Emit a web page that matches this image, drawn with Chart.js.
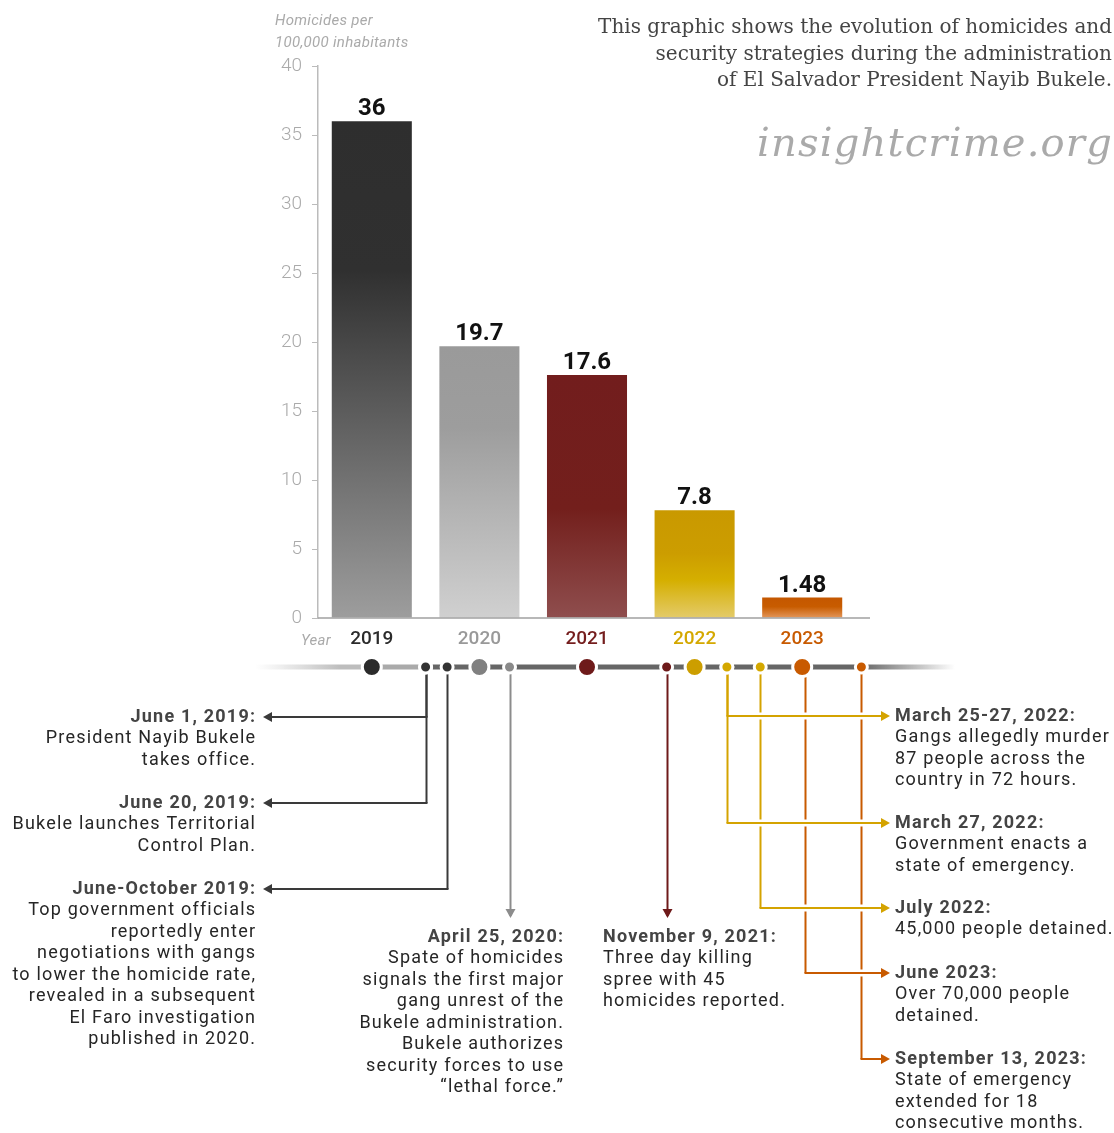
<!DOCTYPE html>
<html>
<head>
<meta charset="utf-8">
<script src="https://cdn.jsdelivr.net/npm/chart.js@4.4.1/dist/chart.umd.min.js"></script>
<style>
  body { margin: 0; background: #fff; }
  #wrap { width: 1114px; height: 1133px; position: relative; }
</style>
</head>
<body>
<div id="wrap"><canvas id="homicideChart"></canvas></div>
<script>
// Homicide rate per 100,000 inhabitants, El Salvador
const years = ['2019', '2020', '2021', '2022', '2023'];
const homicideRate = [36, 19.7, 17.6, 7.8, 1.48];

// Timeline events, placed along the year axis (0 = 2019 ... 4 = 2023)
const eventPos = [0.5, 0.5, 0.7, 1.28, 2.74, 3.3, 3.3, 3.61, 4.03, 4.55];
const eventDates = [
  'June 1, 2019:',
  'June 20, 2019:',
  'June-October 2019:',
  'April 25, 2020:',
  'November 9, 2021:',
  'March 25-27, 2022:',
  'March 27, 2022:',
  'July 2022:',
  'June 2023:',
  'September 13, 2023:'
];
const eventNotes = [
  ['President Nayib Bukele', 'takes office.'],
  ['Bukele launches Territorial', 'Control Plan.'],
  ['Top government officials', 'reportedly enter', 'negotiations with gangs', 'to lower the homicide rate,',
   'revealed in a subsequent', 'El Faro investigation', 'published in 2020.'],
  ['Spate of homicides', 'signals the first major', 'gang unrest of the', 'Bukele administration.',
   'Bukele authorizes', 'security forces to use', '\u201Clethal force.\u201D'],
  ['Three day killing', 'spree with 45', 'homicides reported.'],
  ['Gangs allegedly murder', '87 people across the', 'country in 72 hours.'],
  ['Government enacts a', 'state of emergency.'],
  ['45,000 people detained.'],
  ['Over 70,000 people', 'detained.'],
  ['State of emergency', 'extended for 18', 'consecutive months.']
];

// colours per year
const yearColors = ['#2b2b2b', '#999999', '#741d1d', '#d4a800', '#c85a00'];
const barStops = [
  [[0, '#2e2e2e'], [0.3, '#303030'], [1, '#9d9d9d']],
  [[0, '#9a9a9a'], [0.3, '#9d9d9d'], [1, '#d0d0d0']],
  [[0, '#721d1d'], [0.55, '#731f1c'], [1, '#8f4e4e']],
  [[0, '#c99900'], [0.4, '#cc9d00'], [0.65, '#d5af00'], [1, '#e4cb6a']],
  [[0, '#c45700'], [0.45, '#c85c00'], [1, '#e3975c']]
];

// where each event label sits and how its connector runs
const eventLayout = [
  { side: 'left', x: 255, y: 717, color: '#3a3a3a' },
  { side: 'left', x: 255, y: 803, color: '#3a3a3a' },
  { side: 'left', x: 255, y: 889, color: '#3a3a3a' },
  { side: 'down', x: 563, y: 937, align: 'right', color: '#8c8c8c' },
  { side: 'down', x: 603, y: 937, align: 'left', color: '#6e1a1a' },
  { side: 'right', x: 895, y: 716, color: '#d4a300' },
  { side: 'right', x: 895, y: 823, color: '#d4a300' },
  { side: 'right', x: 895, y: 908, color: '#d4a300' },
  { side: 'right', x: 895, y: 973, color: '#c85a00' },
  { side: 'right', x: 895, y: 1059, color: '#c85a00' }
];
const timelineY = 667;
const bigDotColors = ['#2b2b2b', '#808080', '#6e1a1a', '#cc9e00', '#c85a00'];
const smallDotColors = ['#333333', '#333333', '#333333', '#8a8a8a', '#6e1a1a', '#d4a800', '#d4a800', '#d4a800', null, '#c85a00'];

function barGradient(context) {
  const chart = context.chart;
  const i = context.dataIndex;
  if (!chart.chartArea || !chart.scales.y) return yearColors[i];
  const y = chart.scales.y;
  const top = y.getPixelForValue(homicideRate[i]);
  const bottom = y.getPixelForValue(0);
  const g = chart.ctx.createLinearGradient(0, top, 0, bottom);
  barStops[i].forEach(s => g.addColorStop(s[0], s[1]));
  return g;
}

function arrowHead(ctx, x, y, dir, color) {
  ctx.fillStyle = color;
  ctx.beginPath();
  if (dir === 'left') { ctx.moveTo(x, y); ctx.lineTo(x + 9, y - 5); ctx.lineTo(x + 9, y + 5); }
  if (dir === 'right') { ctx.moveTo(x, y); ctx.lineTo(x - 9, y - 5); ctx.lineTo(x - 9, y + 5); }
  if (dir === 'down') { ctx.moveTo(x, y); ctx.lineTo(x - 5, y - 9); ctx.lineTo(x + 5, y - 9); }
  ctx.closePath();
  ctx.fill();
}

const valueLabels = {
  id: 'valueLabels',
  afterDatasetsDraw(chart) {
    const ctx = chart.ctx;
    const meta = chart.getDatasetMeta(0);
    ctx.save();
    ctx.font = 'bold 24px Roboto';
    ctx.fillStyle = '#111';
    ctx.textAlign = 'center';
    ctx.textBaseline = 'alphabetic';
    meta.data.forEach((bar, i) => {
      ctx.fillText(String(homicideRate[i]), bar.x, bar.y - 6);
    });
    ctx.restore();
  }
};

const extras = {
  id: 'extras',
  afterDraw(chart) {
    const ctx = chart.ctx;
    const xs = chart.scales.x;
    const area = chart.chartArea;
    const px = v => xs.getPixelForValue(v);
    ctx.save();

    // baseline, a bit longer than the plot
    ctx.strokeStyle = '#a0a0a0';
    ctx.lineWidth = 1.5;
    ctx.beginPath();
    ctx.moveTo(area.left, area.bottom);
    ctx.lineTo(870, area.bottom);
    ctx.stroke();

    // axis captions
    ctx.fillStyle = '#aaa';
    ctx.font = 'italic 15px Roboto';
    ctx.letterSpacing = '0.3px';
    ctx.textAlign = 'left';
    ctx.textBaseline = 'middle';
    ctx.fillText('Homicides per', 275, 21);
    ctx.fillText('100,000 inhabitants', 275, 43);
    ctx.textAlign = 'right';
    ctx.fillText('Year', 331, 641);

    // heading and site name
    ctx.letterSpacing = '0px';
    ctx.fillStyle = '#444';
    ctx.font = '20px "DejaVu Serif"';
    ctx.textAlign = 'right';
    ctx.fillText('This graphic shows the evolution of homicides and', 1112, 28);
    ctx.fillText('security strategies during the administration', 1112, 55);
    ctx.fillText('of El Salvador President Nayib Bukele.', 1112, 81);
    ctx.fillStyle = '#aaa';
    ctx.letterSpacing = '1.2px';
    ctx.font = 'italic 40px "DejaVu Serif"';
    ctx.fillText('insightcrime.org', 1113, 146);
    ctx.letterSpacing = '0px';

    // timeline bar
    const ty = timelineY;
    const x0 = px(0);
    let g = ctx.createLinearGradient(256, 0, 340, 0);
    g.addColorStop(0, 'rgba(200,200,200,0)');
    g.addColorStop(1, '#bdbdbd');
    ctx.fillStyle = g;
    ctx.fillRect(256, ty - 2.5, x0 - 256, 5);
    ctx.fillStyle = '#aaaaaa';
    ctx.fillRect(x0, ty - 2.5, px(eventPos[0]) - x0, 5);
    ctx.fillStyle = '#666666';
    const xLast = px(eventPos[eventPos.length - 1]);
    ctx.fillRect(px(eventPos[0]), ty - 2.5, xLast - px(eventPos[0]), 5);
    g = ctx.createLinearGradient(xLast, 0, 955, 0);
    g.addColorStop(0, '#666666');
    g.addColorStop(1, 'rgba(102,102,102,0)');
    ctx.fillStyle = g;
    ctx.fillRect(xLast, ty - 2.5, 955 - xLast, 5);

    // connectors: verticals first
    ctx.lineWidth = 2;
    eventLayout.forEach((e, i) => {
      const dx = Math.round(px(eventPos[i])) + 0.5;
      const endY = e.side === 'down' ? e.y - 21 : e.y;
      ctx.strokeStyle = e.color;
      ctx.beginPath();
      ctx.moveTo(dx, ty);
      ctx.lineTo(dx, endY);
      ctx.stroke();
      if (e.side === 'down') arrowHead(ctx, dx, e.y - 19, 'down', e.color);
    });
    // horizontals, with a white gap where they cross other lines
    eventLayout.forEach((e, i) => {
      if (e.side === 'down') return;
      const dx = Math.round(px(eventPos[i])) + 0.5;
      const tip = e.side === 'left' ? e.x + 8 : e.x - 5;
      if (e.side === 'right') {
        ctx.strokeStyle = '#fff';
        ctx.lineWidth = 7;
        ctx.beginPath();
        ctx.moveTo(dx + 4, e.y);
        ctx.lineTo(tip - 9, e.y);
        ctx.stroke();
      }
      ctx.strokeStyle = e.color;
      ctx.lineWidth = 2;
      ctx.beginPath();
      ctx.moveTo(dx - (e.side === 'right' ? 1 : -1), e.y);
      ctx.lineTo(e.side === 'left' ? tip + 6 : tip - 6, e.y);
      ctx.stroke();
      arrowHead(ctx, tip, e.y, e.side, e.color);
    });

    // dots
    ctx.strokeStyle = '#fff';
    ctx.lineWidth = 3;
    years.forEach((y, i) => {
      ctx.fillStyle = bigDotColors[i];
      ctx.beginPath();
      ctx.arc(px(i), ty, 9.5, 0, Math.PI * 2);
      ctx.fill();
      ctx.stroke();
    });
    eventPos.forEach((p, i) => {
      if (!smallDotColors[i]) return;
      ctx.fillStyle = smallDotColors[i];
      ctx.beginPath();
      ctx.arc(px(p), ty, 6, 0, Math.PI * 2);
      ctx.fill();
      ctx.stroke();
    });

    // event labels
    const lh = 21.5;
    ctx.letterSpacing = '1.2px';
    eventLayout.forEach((e, i) => {
      const align = e.align || (e.side === 'left' ? 'right' : 'left');
      // trailing spacing shifts right-aligned text; compensate
      const ax = align === 'right' ? e.x + 1.2 : e.x;
      ctx.textAlign = align;
      ctx.textBaseline = 'middle';
      ctx.fillStyle = '#444';
      ctx.font = 'bold 18px Roboto';
      ctx.fillText(eventDates[i], ax, e.y);
      ctx.fillStyle = '#262626';
      ctx.font = '18px Roboto';
      eventNotes[i].forEach((line, k) => {
        ctx.fillText(line, ax, e.y + lh * (k + 1));
      });
    });

    ctx.restore();
  }
};

new Chart(document.getElementById('homicideChart'), {
  type: 'bar',
  data: {
    labels: years,
    datasets: [{
      data: homicideRate,
      backgroundColor: barGradient,
      borderWidth: 0,
      barPercentage: 0.744,
      categoryPercentage: 1
    }]
  },
  options: {
    responsive: true,
    maintainAspectRatio: false,
    animation: false,
    layout: { padding: { left: 272, right: 258, top: 66, bottom: 475 } },
    plugins: { legend: { display: false }, tooltip: { enabled: false } },
    scales: {
      x: {
        offset: true,
        grid: { display: false, drawTicks: false },
        border: { display: false },
        ticks: {
          color: yearColors,
          font: { family: 'Roboto', size: 19, weight: '500' },
          padding: 10
        },
        afterFit: s => { s.height = 40; }
      },
      y: {
        min: 0,
        max: 40,
        ticks: {
          stepSize: 5,
          color: '#aaa',
          font: { family: 'Roboto', size: 19, weight: '300' },
          padding: 10
        },
        grid: { drawOnChartArea: false, drawTicks: true, tickLength: 6, color: '#bbb' },
        border: { color: '#bbb', width: 1.5 },
        afterFit: s => { s.width = 46; }
      }
    }
  },
  plugins: [valueLabels, extras]
});
</script>
</body>
</html>
